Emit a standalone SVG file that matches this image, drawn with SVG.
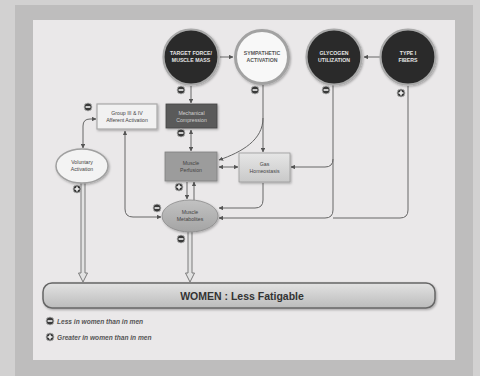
<svg xmlns="http://www.w3.org/2000/svg" width="480" height="376" viewBox="0 0 480 376">
<defs>
<style>
.lbl{font-family:"Liberation Sans",Arial,sans-serif;text-anchor:middle}
.ct{font-size:5.2px;font-weight:bold;fill:#e6e6e6}
.bt{font-size:5.2px;fill:#444}
.con{fill:none;stroke:#666;stroke-width:1}
.thick{fill:#e2e2e2;stroke:#7a7a7a;stroke-width:1}
.dark{fill:#2c2c2c;stroke:#a9a9a9;stroke-width:2.2}
.leg{font-family:"Liberation Sans",Arial,sans-serif;font-size:6.6px;font-style:italic;font-weight:bold;fill:#555}
</style>
<marker id="ah" viewBox="0 0 6 6" refX="5.5" refY="3" markerWidth="4.5" markerHeight="4.5" orient="auto-start-reverse" markerUnits="userSpaceOnUse">
<path d="M0,0 L6,3 L0,6 Z" fill="#555"/>
</marker>
<filter id="sh" x="-20%" y="-20%" width="150%" height="150%">
<feDropShadow dx="1" dy="1.2" stdDeviation="1" flood-color="#000" flood-opacity="0.3"/>
</filter>
<linearGradient id="gas" x1="0" y1="0" x2="0" y2="1"><stop offset="0" stop-color="#e6e6e6"/><stop offset="1" stop-color="#c9c9c9"/></linearGradient>
<linearGradient id="bar" x1="0" y1="0" x2="0" y2="1"><stop offset="0" stop-color="#e2e2e2"/><stop offset="1" stop-color="#bcbcbc"/></linearGradient>
<linearGradient id="met" x1="0" y1="0" x2="0" y2="1"><stop offset="0" stop-color="#c2c2c2"/><stop offset="1" stop-color="#a4a4a4"/></linearGradient>
<g id="minus"><circle r="4" fill="#3a3a3a" stroke="#bbb" stroke-width="0.8"/><rect x="-2.4" y="-0.8" width="4.8" height="1.6" fill="#f2f2f2"/></g>
<g id="plus"><circle r="4" fill="#3a3a3a" stroke="#bbb" stroke-width="0.8"/><rect x="-2.4" y="-0.8" width="4.8" height="1.6" fill="#f2f2f2"/><rect x="-0.8" y="-2.4" width="1.6" height="4.8" fill="#f2f2f2"/></g>
</defs>

<rect x="0" y="0" width="480" height="376" fill="#d2d1d1"/>
<rect x="15" y="5" width="458" height="371" fill="#bebdbd"/>
<rect x="33" y="20" width="422" height="340" fill="#eae8e9"/>

<g id="connectors">
<path class="con" d="M220,57 L233,57" marker-end="url(#ah)"/>
<path class="con" d="M380,57 L364,57" marker-end="url(#ah)"/>
<path class="con" d="M191,86 L191,103" marker-end="url(#ah)"/>
<path class="con" d="M191,130 L191,151" marker-start="url(#ah)" marker-end="url(#ah)"/>
<path class="con" d="M263,85 L263,152" marker-end="url(#ah)"/>
<path class="con" d="M263,118 C263,140 242,152 219,160" marker-end="url(#ah)"/>
<path class="con" d="M219,167 L238,167" marker-start="url(#ah)" marker-end="url(#ah)"/>
<path class="con" d="M333,85 L333,159 Q333,167 325,167 L291,167" marker-end="url(#ah)"/>
<path class="con" d="M333,159 L333,210 Q333,218 325,218 L219,218" marker-end="url(#ah)"/>
<path class="con" d="M408,86 L408,210 Q408,218 400,218 L333,218"/>
<path class="con" d="M263,183 L263,200 Q263,208 255,208 L219,208" marker-end="url(#ah)"/>
<path class="con" d="M187,182 L187,199" marker-end="url(#ah)"/>
<path class="con" d="M194,200 L194,182" marker-end="url(#ah)"/>
<path class="con" d="M125,131 L125,209 Q125,217 133,217 L161,217" marker-start="url(#ah)" marker-end="url(#ah)"/>
<path class="con" d="M96,119 L90,119 Q83,119 83,126 L83,148" marker-start="url(#ah)" marker-end="url(#ah)"/>
<path class="thick" d="M81,183 L81,273 L78.5,273 L83,282 L87.5,273 L85,273 L85,183"/>
<path class="thick" d="M188,232 L188,273 L185.5,273 L190,282 L194.5,273 L192,273 L192,232"/>
</g>

<g id="target-force">
<circle class="dark" cx="191" cy="57" r="27.5" filter="url(#sh)"/>
<text class="lbl ct" x="191" y="55">TARGET FORCE/</text>
<text class="lbl ct" x="191" y="62">MUSCLE MASS</text>
<use href="#minus" x="181" y="90"/>
</g>
<g id="sympathetic">
<circle cx="262" cy="57" r="26.5" fill="#f8f8f8" stroke="#a2a2a2" stroke-width="3" filter="url(#sh)"/>
<text class="lbl ct" x="262" y="55" style="fill:#555">SYMPATHETIC</text>
<text class="lbl ct" x="262" y="62" style="fill:#555">ACTIVATION</text>
<use href="#minus" x="255" y="90"/>
</g>
<g id="glycogen">
<circle class="dark" cx="334" cy="57" r="27.5" filter="url(#sh)"/>
<text class="lbl ct" x="334" y="55">GLYCOGEN</text>
<text class="lbl ct" x="334" y="62">UTILIZATION</text>
<use href="#minus" x="326" y="90"/>
</g>
<g id="type1">
<circle class="dark" cx="408" cy="57" r="27.5" filter="url(#sh)"/>
<text class="lbl ct" x="408" y="55">TYPE I</text>
<text class="lbl ct" x="408" y="62">FIBERS</text>
<use href="#plus" x="401" y="93"/>
</g>

<g id="group3-4">
<rect x="97" y="104" width="60" height="25" fill="#f1f1f1" stroke="#a8a8a8" stroke-width="1.2" filter="url(#sh)"/>
<text class="lbl bt" x="127" y="115">Group III &amp; IV</text>
<text class="lbl bt" x="127" y="122">Afferent Activation</text>
<use href="#minus" x="88" y="107"/>
</g>
<g id="mech-comp">
<rect x="166" y="104" width="51" height="24" fill="#5a5a5a" stroke="#444" stroke-width="0.8" filter="url(#sh)"/>
<text class="lbl bt" x="191.5" y="114.5" style="fill:#d0d0d0">Mechanical</text>
<text class="lbl bt" x="191.5" y="121.5" style="fill:#d0d0d0">Compression</text>
<use href="#minus" x="181" y="133"/>
</g>
<g id="perfusion">
<rect x="165" y="152" width="52" height="29" fill="#9c9c9c" stroke="#808080" stroke-width="0.8" filter="url(#sh)"/>
<text class="lbl bt" x="191" y="165">Muscle</text>
<text class="lbl bt" x="191" y="172">Perfusion</text>
<use href="#plus" x="179" y="187"/>
</g>
<g id="gas">
<rect x="239" y="153" width="51" height="29" fill="url(#gas)" stroke="#9a9a9a" stroke-width="0.8" filter="url(#sh)"/>
<text class="lbl bt" x="264.5" y="166">Gas</text>
<text class="lbl bt" x="264.5" y="173">Homeostasis</text>
</g>
<g id="metabolites">
<ellipse cx="190" cy="216" rx="28" ry="16" fill="url(#met)" stroke="#8a8a8a" stroke-width="0.8" filter="url(#sh)"/>
<text class="lbl bt" x="190" y="214">Muscle</text>
<text class="lbl bt" x="190" y="221">Metabolites</text>
<use href="#minus" x="157" y="208"/>
<use href="#minus" x="181" y="239"/>
</g>
<g id="voluntary">
<ellipse cx="82" cy="166" rx="26" ry="17" fill="#f3f3f3" stroke="#a0a0a0" stroke-width="1.5" filter="url(#sh)"/>
<text class="lbl bt" x="82" y="164">Voluntary</text>
<text class="lbl bt" x="82" y="171">Activation</text>
<use href="#plus" x="77" y="189"/>
</g>

<g id="outcome">
<rect x="43" y="283" width="392" height="25" rx="9" fill="url(#bar)" stroke="#666" stroke-width="1.5" filter="url(#sh)"/>
<text class="lbl" x="242" y="299.5" font-size="10.5" font-weight="bold" fill="#333">WOMEN : Less Fatigable</text>
</g>

<g id="legend">
<use href="#minus" x="50" y="321"/>
<text class="leg" x="57" y="323.5">Less in women than in men</text>
<use href="#plus" x="50" y="337"/>
<text class="leg" x="57" y="339.5">Greater in women than in men</text>
</g>
</svg>
